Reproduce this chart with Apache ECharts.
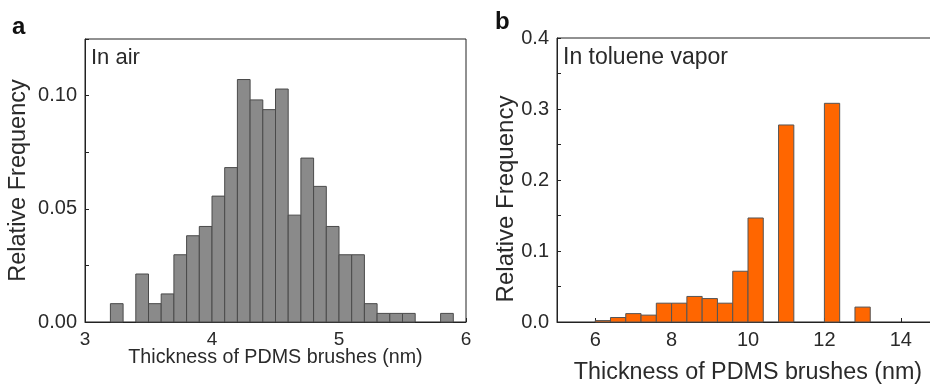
<!DOCTYPE html>
<html>
<head>
<meta charset="utf-8">
<script src="https://cdn.jsdelivr.net/npm/echarts@6/dist/echarts.min.js"></script>
<style>
  html, body { margin: 0; padding: 0; background: #fff; }
  #chart { width: 930px; height: 385px; }
</style>
</head>
<body>
<div id="chart"></div>
<script>
// panel a: in air, bins of 0.1 nm (left edges)
const airBinStart = [3.2, 3.4, 3.5, 3.6, 3.7, 3.8, 3.9, 4.0, 4.1, 4.2, 4.3, 4.4, 4.5, 4.6, 4.7, 4.8, 4.9, 5.0, 5.1, 5.2, 5.3, 5.4, 5.5, 5.8]
const airFreq = [0.0081, 0.0212, 0.0081, 0.0124, 0.0297, 0.0381, 0.0422, 0.0556, 0.0682, 0.1071, 0.0981, 0.0938, 0.1029, 0.0472, 0.0724, 0.0599, 0.0422, 0.0297, 0.0297, 0.0081, 0.0038, 0.0038, 0.0038, 0.0038]
const airBinWidth = 0.1

// panel b: in toluene vapor, bins of 0.4 nm (left edges)
const vaporBinStart = [6.0, 6.4, 6.8, 7.2, 7.6, 8.0, 8.4, 8.8, 9.2, 9.6, 10.0, 10.8, 12.0, 12.8]
const vaporFreq = [0.002, 0.0063, 0.0118, 0.0097, 0.0265, 0.0265, 0.036, 0.033, 0.0265, 0.0715, 0.1465, 0.2775, 0.308, 0.021]
const vaporBinWidth = 0.4

const FONT = '"Liberation Sans", Arial, sans-serif'
const TEXT = '#2a2a2a'
const FRAME = '#222'

// [start, end, freq]
const toBins = (starts, freqs, w) => starts.map((s, i) => [s, +(s + w).toFixed(2), freqs[i]])

function histItem(params, api) {
  const p0 = api.coord([api.value(0), 0])
  const p1 = api.coord([api.value(1), api.value(2)])
  return {
    type: 'rect',
    shape: { x: p0[0], y: p1[1], width: p1[0] - p0[0], height: p0[1] - p1[1] },
    style: api.style()
  }
}

const tickCommon = { inside: true, length: 4, lineStyle: { color: FRAME } }
const lineCommon = { show: true, onZero: false, lineStyle: { color: FRAME, width: 1 } }

const chart = echarts.init(document.getElementById('chart'))
chart.setOption({
  animation: false,
  textStyle: { fontFamily: FONT },
  grid: [
    { left: 85, top: 39, width: 381, height: 283, show: true, borderColor: FRAME, borderWidth: 1, outerBoundsMode: 'none' },
    { left: 557, top: 38, width: 382, height: 284, show: true, borderColor: FRAME, borderWidth: 1, outerBoundsMode: 'none' }
  ],
  xAxis: [
    {
      gridIndex: 0, type: 'value', min: 3, max: 6, interval: 1,
      axisLine: lineCommon, axisTick: tickCommon, splitLine: { show: false },
      axisLabel: { color: TEXT, fontSize: 19, margin: 8, fontFamily: FONT },
      name: 'Thickness of PDMS brushes (nm)', nameLocation: 'middle', nameGap: 26,
      nameMoveOverlap: false,
      nameTextStyle: { color: TEXT, fontSize: 19.7, fontFamily: FONT }
    },
    {
      gridIndex: 1, type: 'value', min: 5, max: 15, interval: 1,
      axisLine: lineCommon, axisTick: tickCommon, splitLine: { show: false },
      axisLabel: {
        color: TEXT, fontSize: 20, margin: 8, fontFamily: FONT,
        formatter: v => (v % 2 === 0 ? String(v) : '')
      },
      name: 'Thickness of PDMS brushes (nm)', nameLocation: 'middle', nameGap: 39,
      nameMoveOverlap: false,
      nameTextStyle: { color: TEXT, fontSize: 23.3, fontFamily: FONT }
    }
  ],
  yAxis: [
    {
      gridIndex: 0, type: 'value', min: 0, max: 0.125, interval: 0.025,
      axisLine: lineCommon, axisTick: tickCommon, splitLine: { show: false },
      axisLabel: {
        color: TEXT, fontSize: 20, margin: 8, fontFamily: FONT,
        formatter: v => (Math.round(v * 1000) % 50 === 0 && v < 0.12 ? v.toFixed(2) : '')
      },
      name: 'Relative Frequency', nameLocation: 'middle', nameGap: 54,
      nameMoveOverlap: false,
      nameTextStyle: { color: TEXT, fontSize: 23.5, fontFamily: FONT }
    },
    {
      gridIndex: 1, type: 'value', min: 0, max: 0.4, interval: 0.05,
      axisLine: lineCommon, axisTick: tickCommon, splitLine: { show: false },
      axisLabel: {
        color: TEXT, fontSize: 20, margin: 8, fontFamily: FONT,
        formatter: v => (Math.round(v * 100) % 10 === 0 ? v.toFixed(1) : '')
      }
    }
  ],
  graphic: [
    { type: 'text', left: 12, top: 15, style: { text: 'a', font: 'bold 24px ' + FONT, fill: '#111' } },
    { type: 'text', left: 495, top: 10, style: { text: 'b', font: 'bold 24px ' + FONT, fill: '#111' } },
    { type: 'text', left: 91, top: 47, style: { text: 'In air', font: '22px ' + FONT, fill: TEXT } },
    { type: 'text', left: 563, top: 46, style: { text: 'In toluene vapor', font: '23px ' + FONT, fill: TEXT } },
    // right panel y title sits a bit below the plot middle in the original
    {
      type: 'text', x: 506, y: 199, rotation: Math.PI / 2,
      style: { text: 'Relative Frequency', font: '24px ' + FONT, fill: TEXT, align: 'center', verticalAlign: 'middle' }
    }
  ],
  series: [
    {
      type: 'custom', xAxisIndex: 0, yAxisIndex: 0,
      renderItem: histItem,
      encode: { x: [0, 1], y: 2 },
      itemStyle: { color: '#8a8a8a', borderColor: '#4a4a4a', borderWidth: 1 },
      data: toBins(airBinStart, airFreq, airBinWidth)
    },
    {
      type: 'custom', xAxisIndex: 1, yAxisIndex: 1,
      renderItem: histItem,
      encode: { x: [0, 1], y: 2 },
      itemStyle: { color: '#ff6600', borderColor: '#555555', borderWidth: 1 },
      data: toBins(vaporBinStart, vaporFreq, vaporBinWidth)
    }
  ]
})
</script>
</body>
</html>
